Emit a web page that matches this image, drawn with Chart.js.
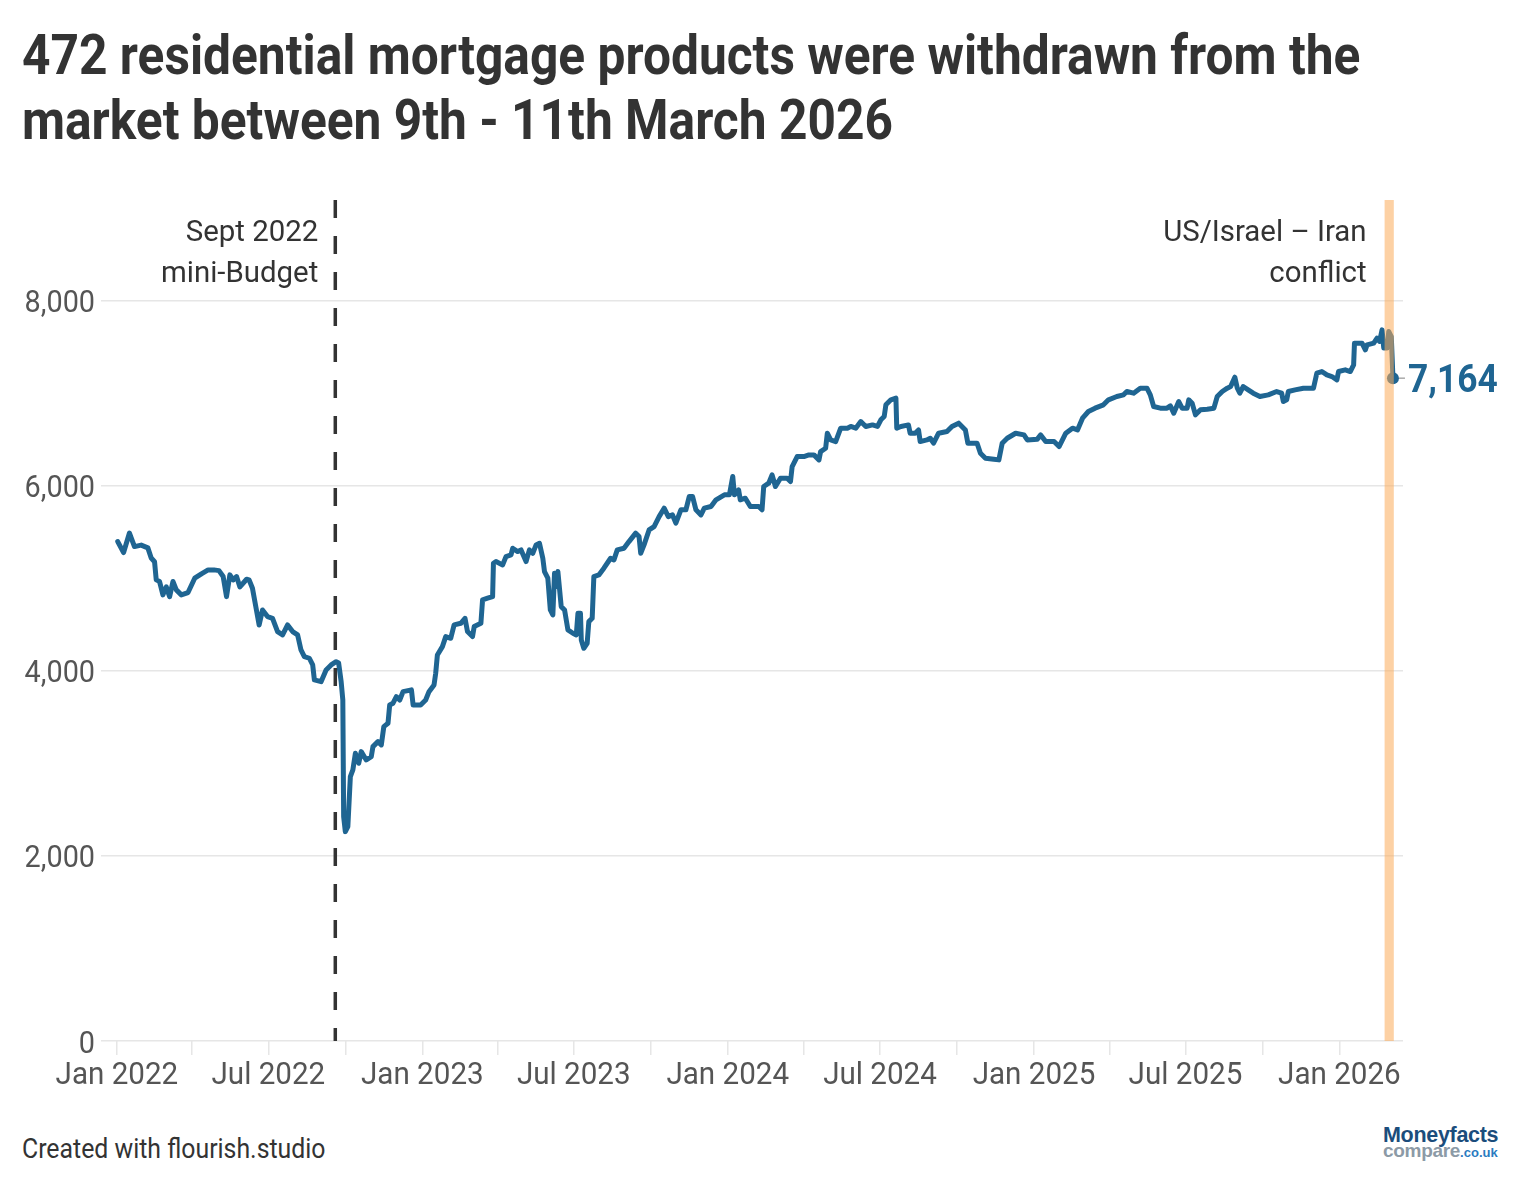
<!DOCTYPE html>
<html>
<head>
<meta charset="utf-8">
<script src="https://cdn.jsdelivr.net/npm/chart.js@4.4.1/dist/chart.umd.min.js"></script>
<style>
  body { margin: 0; background: #fff; width: 1524px; height: 1196px; position: relative; overflow: hidden; font-family: Roboto, sans-serif; }
  .ttl { position: absolute; left: 22px; font-size: 56px; font-weight: bold; color: #333; white-space: nowrap; transform: scaleX(0.887); transform-origin: 0 0; }
  #wrap { position: absolute; left: 0; top: 190px; width: 1524px; height: 920px; }
  #credit { position: absolute; left: 22px; top: 1133px; font-size: 27px; color: #333; white-space: nowrap; transform: scaleX(0.92); transform-origin: 0 0; }
  #logo { position: absolute; left: 1383px; top: 1127px; font-family: "Liberation Sans", Arial, sans-serif; font-weight: bold; line-height: 16px; }
  #logo .a { font-size: 21.5px; color: #1b4d7c; letter-spacing: -0.3px; }
  #logo .b { font-size: 19px; color: #8c9aa6; letter-spacing: -0.3px; }
  #logo .c { font-size: 13px; color: #2a7bbf; }
</style>
</head>
<body>
<div class="ttl" style="top:22px">472 residential mortgage products were withdrawn from the</div>
<div class="ttl" style="top:87px">market between 9th - 11th March 2026</div>
<div id="wrap"><canvas id="chart"></canvas></div>
<div id="credit">Created with flourish.studio</div>
<div id="logo"><div class="a">Moneyfacts</div><div><span class="b">compare</span><span class="c">.co.uk</span></div></div>

<script>
// days counted from 1 Jan 2022, values = number of residential mortgage products
var days = [
  1, 8, 15, 21, 29, 37, 41, 45, 47, 51, 55, 59, 63, 67, 71, 77, 85, 93, 101, 109,
  116, 122, 127, 131, 135, 139, 143, 147, 155, 158, 162, 166, 170, 174, 180, 186, 192, 198, 204, 210,
  216, 220, 224, 230, 234, 236, 244, 250, 256, 262, 265, 268,
  270, 271, 273, 276, 279, 282, 285, 289, 292, 298, 304, 306, 312, 316, 319, 324, 326, 330, 334, 338,
  342, 352, 354, 363, 369, 373, 379, 381, 383, 389, 393, 399, 403, 411, 416, 419, 425, 427, 435, 437,
  443, 449, 450, 453, 461, 465, 471, 473, 479, 483, 489, 493, 497, 501, 505, 509, 511, 515, 518, 521,
  523, 525, 527, 531, 535, 539, 545, 549, 551, 554, 555, 558, 562, 564, 568,
  570, 576, 582, 590, 594, 598, 606, 612, 620, 624, 626, 630, 636, 642, 648, 654, 659, 664, 668, 674,
  680, 684, 688, 692, 698, 702, 710, 716, 726, 732, 736, 738, 743, 745, 751, 757, 767, 771, 773, 779,
  783, 787, 793, 801, 805, 807, 813, 821, 827, 833, 839, 841, 847, 849, 853, 859, 865, 873, 877, 883,
  889, 895, 903, 909, 913, 917, 919, 925, 931, 932, 937, 946, 948, 954, 958, 960, 968, 972, 976, 982,
  992, 998, 1006, 1014, 1017, 1028, 1032,
  1038, 1048, 1054, 1058, 1064, 1074, 1084, 1088, 1100, 1104, 1110, 1120, 1126, 1134, 1142, 1148, 1154, 1161, 1169, 1179,
  1185, 1195, 1203, 1207, 1215, 1223, 1231, 1235, 1239, 1247, 1255, 1259, 1263, 1269, 1273, 1279, 1281, 1285, 1289, 1295,
  1303, 1311, 1315, 1321, 1327, 1331, 1336, 1339, 1342, 1346, 1352, 1358, 1366, 1376, 1386, 1392, 1394, 1398, 1400, 1408,
  1418, 1430, 1434, 1440, 1446, 1452, 1458, 1460, 1468, 1474, 1478, 1479, 1488, 1492, 1494, 1502, 1506, 1509, 1512, 1514,
  1518, 1520, 1523, 1525
];
var products = [
  5398, 5279, 5490, 5344, 5360, 5330, 5220, 5180, 4984, 4966, 4822, 4908, 4803, 4966, 4876, 4822, 4847, 5002, 5049, 5092,
  5092, 5084, 5020, 4803, 5038, 4984, 5020, 4908, 4991, 4984, 4894, 4695, 4497, 4659, 4587, 4569, 4425, 4389, 4497, 4425,
  4389, 4227, 4155, 4137, 4065, 3903, 3884, 4011, 4065, 4100, 4086, 3884,
  3686, 2425, 2263, 2317, 2857, 2930, 3110, 3002, 3128, 3038, 3074, 3182, 3236, 3200, 3398, 3434, 3632, 3651, 3722, 3686,
  3776, 3795, 3632, 3632, 3686, 3776, 3849, 3975, 4173, 4263, 4371, 4353, 4497, 4515, 4569, 4425, 4371, 4479, 4515, 4768,
  4786, 4803, 5164, 5182, 5146, 5236, 5254, 5326, 5290, 5308, 5182, 5308, 5272, 5362, 5380, 5218, 5074, 5002, 4659, 4605,
  5056, 4912, 5074, 4695, 4659, 4443, 4407, 4389, 4623, 4623, 4335, 4245, 4299, 4533, 4569,
  5020, 5038, 5110, 5218, 5200, 5308, 5326, 5398, 5489, 5452, 5272, 5362, 5524, 5560, 5668, 5759, 5668, 5686, 5597, 5741,
  5741, 5885, 5885, 5741, 5686, 5759, 5777, 5849, 5903, 5903, 6101, 5903, 5957, 5849, 5867, 5777, 5777, 5741, 5993, 6029,
  6119, 5993, 6083, 6083, 6047, 6209, 6317, 6317, 6335, 6335, 6281, 6371, 6407, 6569, 6497, 6479, 6624, 6624, 6642, 6624,
  6695, 6642, 6659, 6642, 6714, 6750, 6876, 6930, 6948, 6624, 6642, 6659, 6569, 6569, 6605, 6479, 6497, 6515, 6461, 6569,
  6587, 6642, 6678, 6605, 6461, 6461, 6353,
  6299, 6288, 6281, 6461, 6515, 6569, 6551, 6497, 6505, 6551, 6479, 6479, 6425, 6569, 6624, 6605, 6732, 6804, 6840, 6876,
  6930, 6966, 6984, 7020, 7002, 7056, 7056, 6984, 6858, 6840, 6840, 6865, 6786, 6912, 6840, 6840, 6930, 6894, 6768, 6822,
  6829, 6840, 6966, 7020, 7056, 7074, 7175, 7056, 7002, 7074, 7038, 7002, 6966, 6984, 7020, 7002, 6912, 6930, 7020, 7038,
  7056, 7056, 7218, 7236, 7200, 7182, 7146, 7236, 7254, 7236, 7308, 7543, 7543, 7470, 7524, 7543, 7597, 7561, 7686, 7489,
  7489, 7668, 7614, 7164
];
var yTicks = [0, 2000, 4000, 6000, 8000];
var quarterDays = [0, 90, 181, 273, 365, 455, 546, 638, 730, 821, 912, 1004, 1096, 1186, 1277, 1369, 1461];
var quarterLabels = ["Jan 2022", "", "Jul 2022", "", "Jan 2023", "", "Jul 2023", "", "Jan 2024", "", "Jul 2024", "",
  "Jan 2025", "", "Jul 2025", "", "Jan 2026"];
var miniBudgetDay = 261;
var conflictStart = 1515, conflictEnd = 1526;

var BLUE = "#1f6592";

function txt(ctx, s, x, y, align, font, color, sx) {
  ctx.save();
  ctx.font = font;
  ctx.fillStyle = color;
  ctx.textAlign = "left";
  ctx.textBaseline = "alphabetic";
  var w = ctx.measureText(s).width * sx;
  var left = align === "right" ? x - w : (align === "center" ? x - w / 2 : x);
  ctx.translate(left, y);
  ctx.scale(sx, 1);
  ctx.fillText(s, 0, 0);
  ctx.restore();
}

var extras = {
  id: "extras",
  afterDraw: function (chart) {
    var ctx = chart.ctx, xs = chart.scales.x, ys = chart.scales.y, a = chart.chartArea;
    // axis labels
    yTicks.forEach(function (v) {
      txt(ctx, v.toLocaleString("en-US"), a.left - 6, ys.getPixelForValue(v) + 11.5, "right", "32px Roboto", "#555", 0.9);
    });
    quarterDays.forEach(function (d, i) {
      if (quarterLabels[i]) txt(ctx, quarterLabels[i], xs.getPixelForValue(d), a.bottom + 43, "center", "32px Roboto", "#555", 0.925);
    });
    // conflict band (over the line)
    var b1 = xs.getPixelForValue(conflictStart), b2 = xs.getPixelForValue(conflictEnd);
    ctx.save();
    ctx.fillStyle = "rgba(252,172,90,0.55)";
    ctx.fillRect(b1, a.top, b2 - b1, a.bottom - a.top);
    // mini-budget dashed line
    var dx = xs.getPixelForValue(miniBudgetDay);
    ctx.strokeStyle = "#333";
    ctx.lineWidth = 3.5;
    ctx.setLineDash([18, 18]);
    ctx.beginPath();
    ctx.moveTo(dx, a.top);
    ctx.lineTo(dx, a.bottom);
    ctx.stroke();
    ctx.restore();
    txt(ctx, "Sept 2022", dx - 17, a.top + 41, "right", "30px Roboto", "#333", 0.98);
    txt(ctx, "mini-Budget", dx - 17, a.top + 82, "right", "30px Roboto", "#333", 0.98);
    txt(ctx, "US/Israel \u2013 Iran", b1 - 18, a.top + 41, "right", "30px Roboto", "#333", 0.98);
    txt(ctx, "conflict", b1 - 18, a.top + 82, "right", "30px Roboto", "#333", 0.98);
    // last value label
    var n = products.length - 1;
    var px = xs.getPixelForValue(days[n]), py = ys.getPixelForValue(products[n]);
    ctx.save();
    ctx.strokeStyle = "#aaa";
    ctx.lineWidth = 1.5;
    ctx.beginPath();
    ctx.moveTo(px + 6, py);
    ctx.lineTo(px + 12, py);
    ctx.stroke();
    ctx.restore();
    txt(ctx, products[n].toLocaleString("en-US"), px + 15, py + 14, "left", "bold 38px Roboto", BLUE, 0.93);
  }
};

var chart = new Chart(document.getElementById("chart"), {
  type: "line",
  data: {
    datasets: [{
      data: days.map(function (d, i) { return { x: d, y: products[i] }; }),
      borderColor: BLUE,
      backgroundColor: BLUE,
      borderWidth: 5,
      borderJoinStyle: "round",
      borderCapStyle: "round",
      tension: 0,
      pointRadius: function (c) { return c.dataIndex === products.length - 1 ? 6 : 0; },
      pointBorderWidth: 0,
      pointHoverRadius: 0
    }]
  },
  options: {
    responsive: true,
    maintainAspectRatio: false,
    animation: false,
    layout: { padding: { top: 10, right: 121, left: 0, bottom: 0 } },
    plugins: { legend: { display: false }, tooltip: { enabled: false } },
    scales: {
      x: {
        type: "linear",
        min: -19,
        max: 1537,
        afterBuildTicks: function (s) { s.ticks = quarterDays.map(function (d) { return { value: d }; }); },
        afterFit: function (s) { s.height = 69; },
        ticks: { display: false },
        grid: { drawOnChartArea: false, drawTicks: true, tickLength: 14, color: "#e6e6e6", lineWidth: 1.5 },
        border: { display: false }
      },
      y: {
        min: 0,
        max: 9090,
        afterBuildTicks: function (s) { s.ticks = yTicks.map(function (v) { return { value: v }; }); },
        afterFit: function (s) { s.width = 101; },
        ticks: { display: false },
        grid: { color: "#e6e6e6", lineWidth: 1.5, drawTicks: false },
        border: { display: false }
      }
    }
  },
  plugins: [extras]
});
</script>
</body>
</html>
